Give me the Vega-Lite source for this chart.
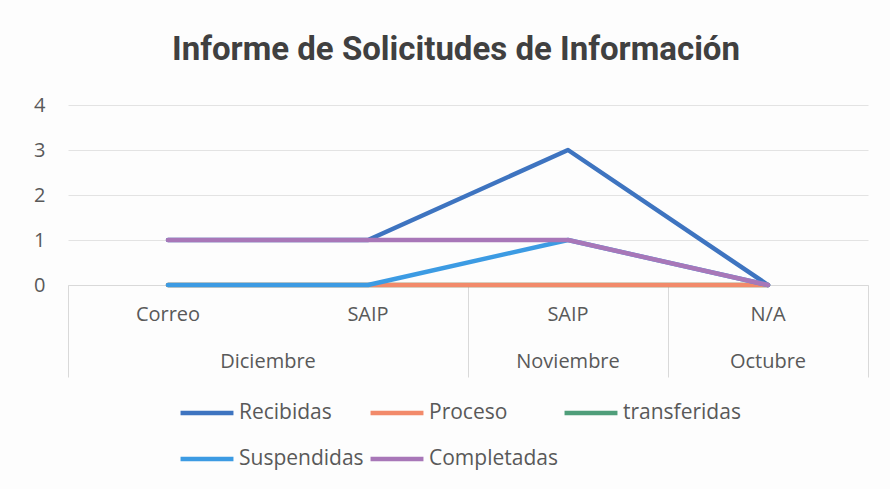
{
  "$schema": "https://vega.github.io/schema/vega-lite/v6.json",
  "width": 800,
  "height": 180,
  "autosize": {"type": "none"},
  "padding": {"left": 68, "top": 105, "right": 22, "bottom": 204},
  "background": "#fdfdfd",
  "title": {
    "text": "Informe de Solicitudes de Información",
    "font": "Roboto",
    "fontSize": 33,
    "fontWeight": "bold",
    "color": "#404040",
    "anchor": "middle",
    "frame": "group",
    "dx": -12,
    "offset": 28
  },
  "config": {
    "view": {"stroke": null},
    "font": "Open Sans",
    "axis": {"labelFont": "Open Sans", "labelColor": "#595959", "labelFontSize": 20, "titleFont": "Open Sans"}
  },
  "data": {
    "values": [
      {"cat": "Correo|Diciembre", "serie": "transferidas", "valor": 0},
      {"cat": "SAIP|Diciembre", "serie": "transferidas", "valor": 0},
      {"cat": "SAIP|Noviembre", "serie": "transferidas", "valor": 0},
      {"cat": "N/A|Octubre", "serie": "transferidas", "valor": 0},
      {"cat": "Correo|Diciembre", "serie": "Recibidas", "valor": 1},
      {"cat": "SAIP|Diciembre", "serie": "Recibidas", "valor": 1},
      {"cat": "SAIP|Noviembre", "serie": "Recibidas", "valor": 3},
      {"cat": "N/A|Octubre", "serie": "Recibidas", "valor": 0},
      {"cat": "Correo|Diciembre", "serie": "Proceso", "valor": 0},
      {"cat": "SAIP|Diciembre", "serie": "Proceso", "valor": 0},
      {"cat": "SAIP|Noviembre", "serie": "Proceso", "valor": 0},
      {"cat": "N/A|Octubre", "serie": "Proceso", "valor": 0},
      {"cat": "Correo|Diciembre", "serie": "Suspendidas", "valor": 0},
      {"cat": "SAIP|Diciembre", "serie": "Suspendidas", "valor": 0},
      {"cat": "SAIP|Noviembre", "serie": "Suspendidas", "valor": 1},
      {"cat": "N/A|Octubre", "serie": "Suspendidas", "valor": 0},
      {"cat": "Correo|Diciembre", "serie": "Completadas", "valor": 1},
      {"cat": "SAIP|Diciembre", "serie": "Completadas", "valor": 1},
      {"cat": "SAIP|Noviembre", "serie": "Completadas", "valor": 1},
      {"cat": "N/A|Octubre", "serie": "Completadas", "valor": 0}
    ]
  },
  "resolve": {"axis": {"x": "independent"}},
  "layer": [
    {
      "mark": {"type": "line", "strokeWidth": 4.5, "strokeJoin": "round", "strokeCap": "round"},
      "encoding": {
        "x": {
          "field": "cat", "type": "nominal",
          "sort": ["Correo|Diciembre", "SAIP|Diciembre", "SAIP|Noviembre", "N/A|Octubre"],
          "scale": {"type": "band", "paddingInner": 0, "paddingOuter": 0},
          "axis": {
            "orient": "bottom",
            "title": null,
            "labelExpr": "split(datum.value, '|')[0]",
            "labelAngle": 0,
            "ticks": false,
            "domain": true,
            "domainColor": "#d9d9d9",
            "domainWidth": 1,
            "labelPadding": 19,
            "grid": false
          }
        },
        "y": {
          "field": "valor", "type": "quantitative",
          "scale": {"domain": [0, 4], "nice": false},
          "axis": {
            "title": null,
            "values": [0, 1, 2, 3, 4],
            "domain": false,
            "ticks": false,
            "labelPadding": 23,
            "gridColor": "#e3e3e3",
            "gridWidth": 1
          }
        },
        "color": {
          "field": "serie", "type": "nominal",
          "scale": {
            "domain": ["Recibidas", "Proceso", "transferidas", "Suspendidas", "Completadas"],
            "range": ["#3e74c0", "#f28a6a", "#4f9e7a", "#3c9be3", "#a877b8"]
          },
          "legend": {
            "title": null,
            "orient": "none",
            "direction": "horizontal",
            "legendX": 110,
            "legendY": 293,
            "columns": 3,
            "symbolType": "stroke",
            "symbolStrokeWidth": 4.5,
            "symbolSize": 2800,
            "clipHeight": 30,
            "rowPadding": 16,
            "columnPadding": 4,
            "labelOffset": 3,
            "labelFont": "Open Sans",
            "labelFontSize": 21,
            "labelColor": "#595959"
          }
        }
      }
    },
    {
      "mark": {"type": "point", "opacity": 0},
      "encoding": {
        "x": {
          "field": "cat", "type": "nominal",
          "sort": ["Correo|Diciembre", "SAIP|Diciembre", "SAIP|Noviembre", "N/A|Octubre"],
          "axis": {
            "orient": "bottom",
            "title": null,
            "values": ["Correo|Diciembre", "SAIP|Noviembre", "N/A|Octubre"],
            "bandPosition": 0,
            "labelExpr": "split(datum.value, '|')[1]",
            "labelAngle": 0,
            "labelAlign": "center",
            "labelOffset": {"condition": {"test": "datum.value === 'Correo|Diciembre'", "value": 100}, "value": 0},
            "ticks": true,
            "tickSize": 92,
            "tickColor": "#d9d9d9",
            "domain": false,
            "labelPadding": -26,
            "grid": false
          }
        }
      }
    },
    {
      "mark": {"type": "point", "opacity": 0},
      "encoding": {
        "x": {
          "field": "cat", "type": "nominal",
          "sort": ["Correo|Diciembre", "SAIP|Diciembre", "SAIP|Noviembre", "N/A|Octubre"],
          "axis": {
            "orient": "bottom",
            "title": null,
            "values": ["N/A|Octubre"],
            "bandPosition": 1,
            "labels": false,
            "ticks": true,
            "tickSize": 92,
            "tickColor": "#d9d9d9",
            "domain": false,
            "grid": false
          }
        }
      }
    }
  ]
}
